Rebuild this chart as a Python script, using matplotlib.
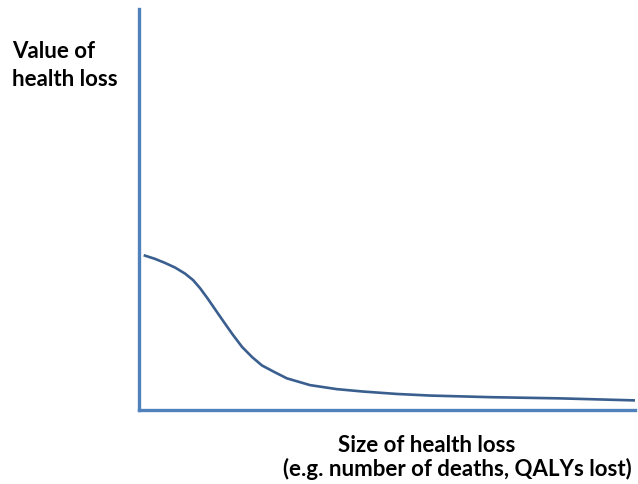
import matplotlib.pyplot as plt

# size of health loss (x) vs value of health loss (y), both 0-100
size = [1.2, 3.2, 5.2, 7.3, 9.3, 10.9, 12.3, 13.9, 15.9, 17.7, 18.9, 20.8, 22.8, 24.8,
        27.4, 29.8, 34.5, 39.9, 45.2, 52.0, 58.7, 70.8, 84.9, 99.8]
value = [38.5, 37.7, 36.7, 35.5, 34.0, 32.4, 30.4, 27.7, 24.1, 20.9, 18.8, 15.7, 13.2, 11.1,
         9.4, 7.9, 6.2, 5.2, 4.6, 4.0, 3.6, 3.2, 2.9, 2.4]

ylabel_lines = ['Value of', 'health loss']
xlabel_line1 = 'Size of health loss'
xlabel_line2 = '(e.g. number of deaths, QALYs lost)'

plt.rcParams['font.family'] = ['Lato', 'DejaVu Sans']

fig = plt.figure(figsize=(6.38, 4.85), dpi=100)
ax = fig.add_axes([139 / 638, 74 / 485, 496 / 638, 401 / 485])

ax.plot(size, value, color='#3A5F8F', lw=1.9, solid_joinstyle='round')
ax.set_xlim(0, 100)
ax.set_ylim(0, 100)

for side in ['top', 'right']:
    ax.spines[side].set_visible(False)
for side in ['left', 'bottom']:
    ax.spines[side].set_color('#4F81BD')
    ax.spines[side].set_linewidth(2.4)
ax.set_xticks([])
ax.set_yticks([])

# labels placed by baseline, in pixels from the top
fig.text(12 / 638, 1 - 58 / 485, ylabel_lines[0], fontsize=16, fontweight='bold',
         ha='left', va='baseline')
fig.text(12 / 638, 1 - 86 / 485, ylabel_lines[1], fontsize=16, fontweight='bold',
         ha='left', va='baseline')
fig.text(427 / 638, 1 - 452 / 485, xlabel_line1, fontsize=16, fontweight='bold',
         ha='center', va='baseline')
fig.text(457 / 638, 1 - 476 / 485, xlabel_line2, fontsize=16, fontweight='bold',
         ha='center', va='baseline')

fig.savefig('out.png', dpi=100)
